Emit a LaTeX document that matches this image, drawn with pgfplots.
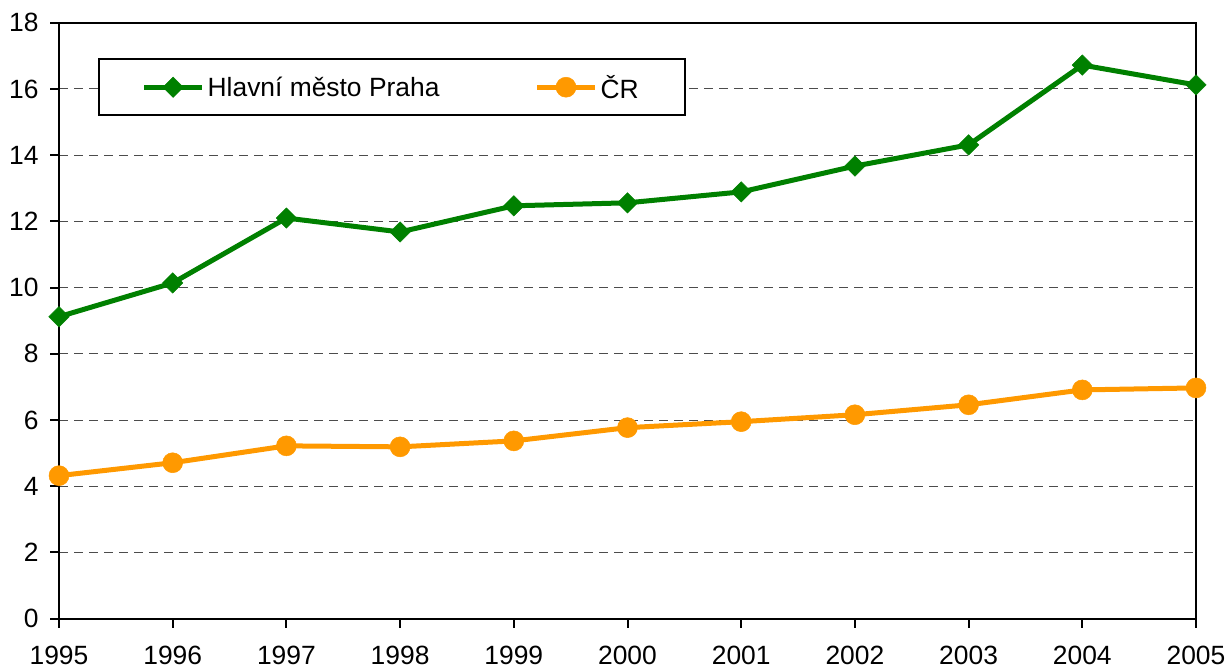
\documentclass[border=0pt]{standalone}
\usepackage{fontspec}
\setmainfont{Liberation Sans}
\usepackage{pgfplots}
\pgfplotsset{compat=1.18}
\definecolor{pgreen}{HTML}{008000}
\definecolor{porange}{HTML}{FF9900}
\begin{document}
\begin{tikzpicture}
\begin{axis}[
  at={(0,0)}, anchor=south west,
  scale only axis,
  width=1137bp, height=596bp,
  xmin=1995, xmax=2005, ymin=0, ymax=18,
  xtick={1995,1996,...,2005},
  ytick={0,2,...,18},
  /pgf/number format/1000 sep={},
  /pgf/number format/assume math mode=true,
  font=\fontsize{26.5}{31}\selectfont,
  xticklabel style={yshift=-15bp},
  yticklabel style={xshift=-8bp},
  tick align=outside,
  xtick pos=bottom, ytick pos=left,
  major tick length=9bp,
  tick style={line width=2bp, black},
  axis line style={line width=2bp},
  ymajorgrids,
  major grid style={black!70, line width=1bp, dash pattern=on 9bp off 6bp},
  legend columns=2,
  legend style={at={(rel axis cs:0.034,0.94)}, anchor=north west,
    draw=black, line width=2bp, inner xsep=43bp, inner ysep=13.5bp,
    font=\fontsize{26.5}{31}\selectfont,
    /tikz/every even column/.append style={column sep=92bp},
    nodes={inner xsep=3bp}},
  legend image code/.code={
    \draw[mark repeat=2,mark phase=2] plot coordinates {(0bp,0bp) (29bp,0bp) (58bp,0bp)};},
]
\addplot[pgreen, line width=5bp, mark=square*, mark size=7.2bp,
  mark options={line width=0.5bp, fill=pgreen, rotate=45}] coordinates {
  (1995,9.12) (1996,10.14) (1997,12.10) (1998,11.68) (1999,12.47) (2000,12.56)
  (2001,12.89) (2002,13.67) (2003,14.31) (2004,16.72) (2005,16.12)};
\addlegendentry{Hlavní město Praha}
\addplot[porange, line width=5bp, mark=*, mark size=10bp,
  mark options={line width=0.5bp, fill=porange}] coordinates {
  (1995,4.32) (1996,4.71) (1997,5.22) (1998,5.19) (1999,5.37) (2000,5.77)
  (2001,5.95) (2002,6.16) (2003,6.46) (2004,6.91) (2005,6.97)};
\addlegendentry{ČR}
\end{axis}
\useasboundingbox (-59bp,-50bp) rectangle (1170bp,618.7bp);
\end{tikzpicture}
\end{document}
